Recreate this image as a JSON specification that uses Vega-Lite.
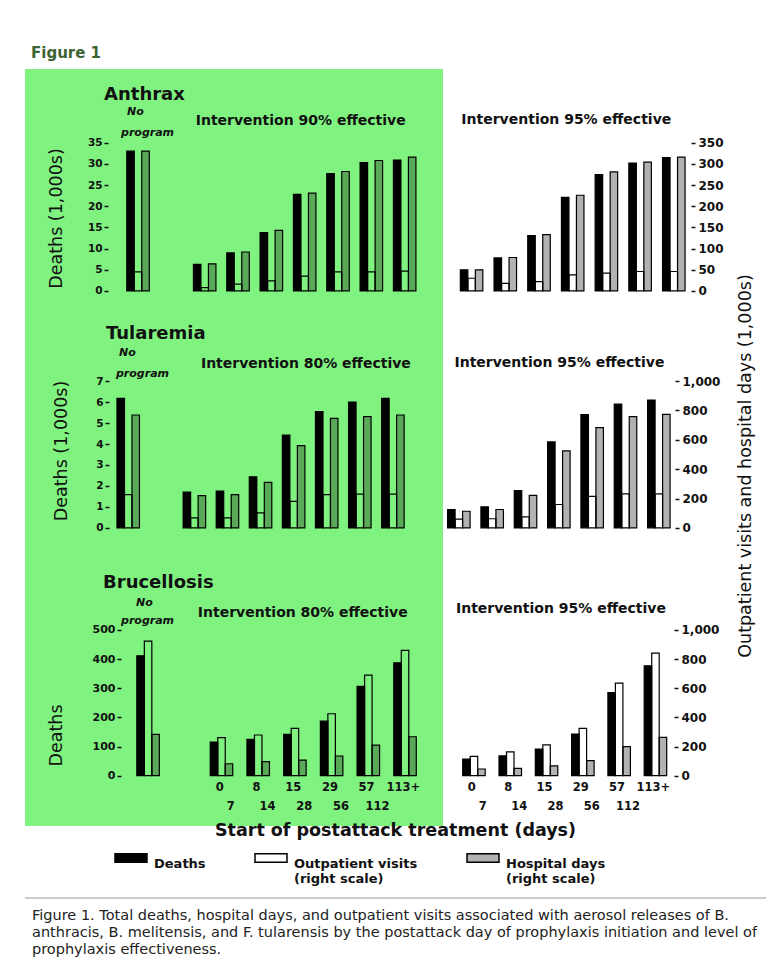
{
  "$schema": "https://vega.github.io/schema/vega-lite/v6.json",
  "background": "white",
  "padding": {"left": 24, "top": 46, "right": 0, "bottom": 0},
  "title": {"text": ["Figure 1. Total deaths, hospital days, and outpatient visits associated with aerosol releases of B.", "anthracis, B. melitensis, and F. tularensis by the postattack day of prophylaxis initiation and level of", "prophylaxis effectiveness."], "orient": "bottom", "anchor": "start", "offset": 10, "dx": 8, "fontSize": 14.5, "fontWeight": "normal", "font": "DejaVu Sans", "color": "#222", "lineHeight": 17},
  "datasets": {
    "anthrax": [
      {"program": "No program", "day": "NP", "deaths": 33.0, "outpatient": 45, "hospital": 330},
      {"program": "Intervention 90% effective", "day": "0", "deaths": 6.3, "outpatient": 8, "hospital": 64},
      {"program": "Intervention 90% effective", "day": "1", "deaths": 9.0, "outpatient": 16, "hospital": 92},
      {"program": "Intervention 90% effective", "day": "2", "deaths": 13.8, "outpatient": 24, "hospital": 143},
      {"program": "Intervention 90% effective", "day": "3", "deaths": 22.8, "outpatient": 35, "hospital": 231},
      {"program": "Intervention 90% effective", "day": "4", "deaths": 27.7, "outpatient": 45, "hospital": 282},
      {"program": "Intervention 90% effective", "day": "5", "deaths": 30.3, "outpatient": 45, "hospital": 308},
      {"program": "Intervention 90% effective", "day": "6", "deaths": 30.9, "outpatient": 47, "hospital": 316},
      {"program": "Intervention 95% effective", "day": "0", "deaths": 5.0, "outpatient": 30, "hospital": 50},
      {"program": "Intervention 95% effective", "day": "1", "deaths": 7.8, "outpatient": 18, "hospital": 79},
      {"program": "Intervention 95% effective", "day": "2", "deaths": 13.1, "outpatient": 22, "hospital": 133},
      {"program": "Intervention 95% effective", "day": "3", "deaths": 22.1, "outpatient": 38, "hospital": 226},
      {"program": "Intervention 95% effective", "day": "4", "deaths": 27.5, "outpatient": 42, "hospital": 281},
      {"program": "Intervention 95% effective", "day": "5", "deaths": 30.2, "outpatient": 46, "hospital": 304},
      {"program": "Intervention 95% effective", "day": "6", "deaths": 31.5, "outpatient": 46, "hospital": 316}
    ],
    "tularemia": [
      {"program": "No program", "day": "NP", "deaths": 6.18, "outpatient": 227, "hospital": 769},
      {"program": "Intervention 80% effective", "day": "0", "deaths": 1.70, "outpatient": 68, "hospital": 220},
      {"program": "Intervention 80% effective", "day": "1", "deaths": 1.75, "outpatient": 68, "hospital": 227},
      {"program": "Intervention 80% effective", "day": "2", "deaths": 2.43, "outpatient": 102, "hospital": 310},
      {"program": "Intervention 80% effective", "day": "3", "deaths": 4.42, "outpatient": 181, "hospital": 561},
      {"program": "Intervention 80% effective", "day": "4", "deaths": 5.54, "outpatient": 227, "hospital": 746},
      {"program": "Intervention 80% effective", "day": "5", "deaths": 6.00, "outpatient": 230, "hospital": 758},
      {"program": "Intervention 80% effective", "day": "6", "deaths": 6.18, "outpatient": 230, "hospital": 769},
      {"program": "Intervention 95% effective", "day": "0", "deaths": 0.87, "outpatient": 60, "hospital": 113},
      {"program": "Intervention 95% effective", "day": "1", "deaths": 1.0, "outpatient": 62, "hospital": 125},
      {"program": "Intervention 95% effective", "day": "2", "deaths": 1.78, "outpatient": 75, "hospital": 222},
      {"program": "Intervention 95% effective", "day": "3", "deaths": 4.1, "outpatient": 159, "hospital": 525},
      {"program": "Intervention 95% effective", "day": "4", "deaths": 5.4, "outpatient": 215, "hospital": 683},
      {"program": "Intervention 95% effective", "day": "5", "deaths": 5.9, "outpatient": 231, "hospital": 758},
      {"program": "Intervention 95% effective", "day": "6", "deaths": 6.1, "outpatient": 231, "hospital": 774}
    ],
    "brucellosis": [
      {"program": "No program", "day": "NP", "deaths": 411, "outpatient": 923, "hospital": 283},
      {"program": "Intervention 80% effective", "day": "0-7", "deaths": 115, "outpatient": 261, "hospital": 82},
      {"program": "Intervention 80% effective", "day": "8-14", "deaths": 125, "outpatient": 279, "hospital": 96},
      {"program": "Intervention 80% effective", "day": "15-28", "deaths": 142, "outpatient": 325, "hospital": 107},
      {"program": "Intervention 80% effective", "day": "29-56", "deaths": 187, "outpatient": 425, "hospital": 135},
      {"program": "Intervention 80% effective", "day": "57-112", "deaths": 306, "outpatient": 690, "hospital": 210},
      {"program": "Intervention 80% effective", "day": "113+", "deaths": 387, "outpatient": 859, "hospital": 267},
      {"program": "Intervention 95% effective", "day": "0-7", "deaths": 57, "outpatient": 132, "hospital": 46},
      {"program": "Intervention 95% effective", "day": "8-14", "deaths": 68, "outpatient": 164, "hospital": 50},
      {"program": "Intervention 95% effective", "day": "15-28", "deaths": 91, "outpatient": 212, "hospital": 68},
      {"program": "Intervention 95% effective", "day": "29-56", "deaths": 143, "outpatient": 324, "hospital": 103},
      {"program": "Intervention 95% effective", "day": "57-112", "deaths": 285, "outpatient": 635, "hospital": 199},
      {"program": "Intervention 95% effective", "day": "113+", "deaths": 377, "outpatient": 840, "hospital": 263}
    ]
  },
  "spacing": -5,
  "vconcat": [
    {
      "title": {"text": "Figure 1", "anchor": "start", "orient": "top", "offset": 8, "dx": 6, "fontSize": 15, "font": "DejaVu Sans", "fontWeight": "bold", "color": "#3c6432"},
      "spacing": 0,
      "hconcat": [
        {
          "spacing": 0,
          "vconcat": [
            {
              "width": 418, "height": 244,
              "view": {"fill": "#80f280", "stroke": null},
              "resolve": {"scale": {"y": "independent"}},
              "layer": [
                {
                  "data": {"name": "anthrax"},
                  "transform": [{"filter": {"field": "program", "oneOf": ["No program", "Intervention 90% effective"]}}, {"fold": ["outpatient", "hospital"], "as": ["measure", "value"]}],
                  "mark": {"type": "bar", "stroke": "#000", "strokeWidth": 1.2},
                  "encoding": {
                    "x": {"field": "day", "type": "nominal", "scale": {"domain": ["p1", "p2", "p3", "NP", "gap", "0", "1", "2", "3", "4", "5", "6"], "paddingInner": 0.325, "paddingOuter": 0.433, "align": 0.062}, "axis": {"values": ["0", "1", "2", "3", "4", "5", "6"], "orient": "bottom", "offset": -22, "tickSize": 0, "labelPadding": 5, "labelAngle": 0, "labelFontSize": 11.5, "title": null}},
                    "xOffset": {"field": "measure", "type": "nominal", "scale": {"domain": ["deaths", "outpatient", "hospital"], "paddingInner": 0, "paddingOuter": 0}},
                    "y": {"field": "value", "type": "quantitative", "scale": {"domain": [-52, 524], "nice": false}, "axis": null},
                    "y2": {"datum": 0},
                    "fill": {"field": "measure", "type": "nominal", "scale": {"domain": ["deaths", "outpatient", "hospital"], "range": ["#000000", "transparent", "rgba(0,0,0,0.3)"]},
                      "legend": {"title": null, "orient": "none", "legendX": 89, "legendY": 772, "direction": "horizontal", "columns": 3, "columnPadding": 46, "symbolType": "M-1,-0.27H1V0.27H-1Z", "symbolSize": 1024, "symbolStrokeColor": "#000", "symbolStrokeWidth": 1.5, "symbolOpacity": 1, "labelFont": "DejaVu Sans", "labelFontSize": 13, "labelFontWeight": "bold", "labelColor": "#111", "labelOffset": 6, "labelLimit": 400, "labelBaseline": "top", "labelLineHeight": 15, "labelExpr": "datum.label == 'deaths' ? ['Deaths', ' '] : datum.label == 'outpatient' ? ['Outpatient visits', '(right scale)'] : ['Hospital days', '(right scale)']"}}
                  }
                },
                {
                  "data": {"name": "anthrax"},
                  "transform": [{"filter": {"field": "program", "oneOf": ["No program", "Intervention 90% effective"]}}],
                  "mark": {"type": "bar", "stroke": "#000", "strokeWidth": 1.2},
                  "encoding": {
                    "x": {"field": "day", "type": "nominal", "scale": {"domain": ["p1", "p2", "p3", "NP", "gap", "0", "1", "2", "3", "4", "5", "6"], "paddingInner": 0.325, "paddingOuter": 0.433, "align": 0.062}, "axis": {"values": ["0", "1", "2", "3", "4", "5", "6"], "orient": "bottom", "offset": -22, "tickSize": 0, "labelPadding": 5, "labelAngle": 0, "labelFontSize": 11.5, "title": null}},
                    "xOffset": {"datum": "deaths", "type": "nominal", "scale": {"domain": ["deaths", "outpatient", "hospital"], "paddingInner": 0, "paddingOuter": 0}},
                    "y": {"field": "deaths", "type": "quantitative", "scale": {"domain": [-5.2, 52.4], "nice": false}, "axis": {"orient": "left", "offset": -83, "values": [0, 5, 10, 15, 20, 25, 30, 35], "tickSize": 4, "labelPadding": 2, "labelFontSize": 10.5, "title": "Deaths (1,000s)", "titleFontSize": 17.5, "titleX": -52, "titleY": 149, "titleAngle": 270, "titleBaseline": "middle", "titleAlign": "center"}},
                    "y2": {"datum": 0},
                    "fill": {"datum": "deaths", "type": "nominal", "scale": {"domain": ["deaths", "outpatient", "hospital"], "range": ["#000000", "transparent", "rgba(0,0,0,0.3)"]}}
                  }
                },
                {
                  "data": {"values": [{"label": "Anthrax"}]},
                  "mark": {"type": "text", "align": "left", "baseline": "middle", "dx": -34, "font": "DejaVu Sans", "fontSize": 18, "fontWeight": "bold", "color": "#111"},
                  "encoding": {"x": {"datum": "NP", "axis": null}, "y": {"datum": 46.3, "scale": {"domain": [-5.2, 52.4], "nice": false}, "axis": null}, "text": {"field": "label"}}
                },
                {
                  "data": {"values": [{"label": "No"}]},
                  "mark": {"type": "text", "align": "left", "baseline": "top", "dx": -11, "font": "DejaVu Sans", "fontSize": 11, "fontWeight": "bold", "fontStyle": "italic", "color": "#111"},
                  "encoding": {"x": {"datum": "NP", "axis": null}, "y": {"datum": 43.7, "scale": {"domain": [-5.2, 52.4], "nice": false}, "axis": null}, "text": {"field": "label"}}
                },
                {
                  "data": {"values": [{"label": "program"}]},
                  "mark": {"type": "text", "align": "left", "baseline": "top", "dx": -17, "font": "DejaVu Sans", "fontSize": 11, "fontWeight": "bold", "fontStyle": "italic", "color": "#111"},
                  "encoding": {"x": {"datum": "NP", "axis": null}, "y": {"datum": 38.7, "scale": {"domain": [-5.2, 52.4], "nice": false}, "axis": null}, "text": {"field": "label"}}
                },
                {
                  "data": {"values": [{"label": "Intervention 90% effective"}]},
                  "mark": {"type": "text", "align": "center", "baseline": "middle", "dx": -4, "font": "DejaVu Sans", "fontSize": 14, "fontWeight": "bold", "color": "#111"},
                  "encoding": {"x": {"datum": "3", "axis": null}, "y": {"datum": 40.1, "scale": {"domain": [-5.2, 52.4], "nice": false}, "axis": null}, "text": {"field": "label"}}
                }
              ]
            },
            {
              "width": 418, "height": 240,
              "view": {"fill": "#80f280", "stroke": null},
              "resolve": {"scale": {"y": "independent"}},
              "layer": [
                {
                  "data": {"name": "tularemia"},
                  "transform": [{"filter": {"field": "program", "oneOf": ["No program", "Intervention 80% effective"]}}, {"fold": ["outpatient", "hospital"], "as": ["measure", "value"]}],
                  "mark": {"type": "bar", "stroke": "#000", "strokeWidth": 1.2},
                  "encoding": {
                    "x": {"field": "day", "type": "nominal", "scale": {"domain": ["p1", "p2", "NP", "gap", "0", "1", "2", "3", "4", "5", "6"], "paddingInner": 0.365, "paddingOuter": 1, "align": 0.39}, "axis": {"values": ["0", "1", "2", "3", "4", "5", "6"], "orient": "bottom", "offset": -25.3, "tickOpacity": 0, "labelPadding": 4, "labelAngle": 0, "labelFontSize": 11.5, "title": null}},
                    "xOffset": {"field": "measure", "type": "nominal", "scale": {"domain": ["deaths", "outpatient", "hospital"], "paddingInner": 0, "paddingOuter": 0}},
                    "y": {"field": "value", "type": "quantitative", "scale": {"domain": [-171.4, 1464.3], "nice": false}, "axis": null},
                    "y2": {"datum": 0},
                    "fill": {"field": "measure", "type": "nominal", "scale": {"domain": ["deaths", "outpatient", "hospital"], "range": ["#000000", "transparent", "rgba(0,0,0,0.3)"]}}
                  }
                },
                {
                  "data": {"name": "tularemia"},
                  "transform": [{"filter": {"field": "program", "oneOf": ["No program", "Intervention 80% effective"]}}],
                  "mark": {"type": "bar", "stroke": "#000", "strokeWidth": 1.2},
                  "encoding": {
                    "x": {"field": "day", "type": "nominal", "scale": {"domain": ["p1", "p2", "NP", "gap", "0", "1", "2", "3", "4", "5", "6"], "paddingInner": 0.365, "paddingOuter": 1, "align": 0.39}, "axis": {"values": ["0", "1", "2", "3", "4", "5", "6"], "orient": "bottom", "offset": -25.3, "tickOpacity": 0, "labelPadding": 4, "labelAngle": 0, "labelFontSize": 11.5, "title": null}},
                    "xOffset": {"datum": "deaths", "type": "nominal", "scale": {"domain": ["deaths", "outpatient", "hospital"], "paddingInner": 0, "paddingOuter": 0}},
                    "y": {"field": "deaths", "type": "quantitative", "scale": {"domain": [-1.2, 10.25], "nice": false}, "axis": {"orient": "left", "offset": -84, "values": [0, 1, 2, 3, 4, 5, 6, 7], "tickSize": 4, "labelPadding": 2, "labelFontSize": 10.5, "title": "Deaths (1,000s)", "titleFontSize": 17.5, "titleX": -48, "titleY": 137.5, "titleAngle": 270, "titleBaseline": "middle", "titleAlign": "center"}},
                    "y2": {"datum": 0},
                    "fill": {"datum": "deaths", "type": "nominal", "scale": {"domain": ["deaths", "outpatient", "hospital"], "range": ["#000000", "transparent", "rgba(0,0,0,0.3)"]}}
                  }
                },
                {
                  "data": {"values": [{"label": "Tularemia"}]},
                  "mark": {"type": "text", "align": "left", "baseline": "middle", "dx": -21.5, "font": "DejaVu Sans", "fontSize": 18, "fontWeight": "bold", "color": "#111"},
                  "encoding": {"x": {"datum": "NP", "axis": null}, "y": {"datum": 9.24, "scale": {"domain": [-1.2, 10.25], "nice": false}, "axis": null}, "text": {"field": "label"}}
                },
                {
                  "data": {"values": [{"label": "No"}]},
                  "mark": {"type": "text", "align": "left", "baseline": "top", "dx": -8.5, "font": "DejaVu Sans", "fontSize": 11, "fontWeight": "bold", "fontStyle": "italic", "color": "#111"},
                  "encoding": {"x": {"datum": "NP", "axis": null}, "y": {"datum": 8.62, "scale": {"domain": [-1.2, 10.25], "nice": false}, "axis": null}, "text": {"field": "label"}}
                },
                {
                  "data": {"values": [{"label": "program"}]},
                  "mark": {"type": "text", "align": "left", "baseline": "top", "dx": -11.5, "font": "DejaVu Sans", "fontSize": 11, "fontWeight": "bold", "fontStyle": "italic", "color": "#111"},
                  "encoding": {"x": {"datum": "NP", "axis": null}, "y": {"datum": 7.62, "scale": {"domain": [-1.2, 10.25], "nice": false}, "axis": null}, "text": {"field": "label"}}
                },
                {
                  "data": {"values": [{"label": "Intervention 80% effective"}]},
                  "mark": {"type": "text", "align": "center", "baseline": "middle", "dx": 13, "font": "DejaVu Sans", "fontSize": 14, "fontWeight": "bold", "color": "#111"},
                  "encoding": {"x": {"datum": "3", "axis": null}, "y": {"datum": 7.81, "scale": {"domain": [-1.2, 10.25], "nice": false}, "axis": null}, "text": {"field": "label"}}
                }
              ]
            },
            {
              "width": 418, "height": 273,
              "view": {"fill": "#80f280", "stroke": null},
              "resolve": {"scale": {"y": "independent"}, "axis": {"x": "independent"}},
              "layer": [
                {
                  "data": {"name": "brucellosis"},
                  "transform": [{"filter": {"field": "program", "oneOf": ["No program", "Intervention 80% effective"]}}, {"fold": ["outpatient", "hospital"], "as": ["measure", "value"]}],
                  "mark": {"type": "bar", "stroke": "#000", "strokeWidth": 1.2},
                  "encoding": {
                    "x": {"field": "day", "type": "nominal", "scale": {"domain": ["p1", "p2", "p3", "NP", "gap", "0-7", "8-14", "15-28", "29-56", "57-112", "113+"], "paddingInner": 0.373, "paddingOuter": 0.38, "align": 0.061}, "axis": {"values": ["0-7", "8-14", "15-28", "29-56", "57-112", "113+"], "orient": "bottom", "offset": -50.3, "tickOpacity": 0, "labelPadding": 1, "labelOffset": -2, "labelAngle": 0, "labelFontSize": 11.5, "title": null, "labelExpr": "indexof(datum.value, '-') > 0 ? split(datum.value, '-')[0] : datum.value"}},
                    "xOffset": {"field": "measure", "type": "nominal", "scale": {"domain": ["deaths", "outpatient", "hospital"], "paddingInner": 0, "paddingOuter": 0}},
                    "y": {"field": "value", "type": "quantitative", "scale": {"domain": [-344.8, 1527], "nice": false}, "axis": null},
                    "y2": {"datum": 0},
                    "fill": {"field": "measure", "type": "nominal", "scale": {"domain": ["deaths", "outpatient", "hospital"], "range": ["#000000", "transparent", "rgba(0,0,0,0.3)"]}}
                  }
                },
                {
                  "data": {"name": "brucellosis"},
                  "transform": [{"filter": {"field": "program", "oneOf": ["No program", "Intervention 80% effective"]}}],
                  "mark": {"type": "bar", "stroke": "#000", "strokeWidth": 1.2},
                  "encoding": {
                    "x": {"field": "day", "type": "nominal", "scale": {"domain": ["p1", "p2", "p3", "NP", "gap", "0-7", "8-14", "15-28", "29-56", "57-112", "113+"], "paddingInner": 0.373, "paddingOuter": 0.38, "align": 0.061}, "axis": {"values": ["0-7", "8-14", "15-28", "29-56", "57-112", "113+"], "orient": "bottom", "offset": -50.3, "tickOpacity": 0, "labelPadding": 20, "labelOffset": 9, "labelAngle": 0, "labelFontSize": 11.5, "title": null, "labelExpr": "indexof(datum.value, '-') > 0 ? split(datum.value, '-')[1] : ''"}},
                    "xOffset": {"datum": "deaths", "type": "nominal", "scale": {"domain": ["deaths", "outpatient", "hospital"], "paddingInner": 0, "paddingOuter": 0}},
                    "y": {"field": "deaths", "type": "quantitative", "scale": {"domain": [-172.4, 763.5], "nice": false}, "axis": {"orient": "left", "offset": -96, "values": [0, 100, 200, 300, 400, 500], "tickSize": 4, "labelPadding": 2, "labelFontSize": 11, "title": "Deaths", "titleFontSize": 17.5, "titleX": -65, "titleY": 182, "titleAngle": 270, "titleBaseline": "middle", "titleAlign": "center"}},
                    "y2": {"datum": 0},
                    "fill": {"datum": "deaths", "type": "nominal", "scale": {"domain": ["deaths", "outpatient", "hospital"], "range": ["#000000", "transparent", "rgba(0,0,0,0.3)"]}}
                  }
                },
                {
                  "data": {"values": [{"label": "Brucellosis"}]},
                  "mark": {"type": "text", "align": "left", "baseline": "middle", "dx": -45.3, "font": "DejaVu Sans", "fontSize": 18, "fontWeight": "bold", "color": "#111"},
                  "encoding": {"x": {"datum": "NP", "axis": null}, "y": {"datum": 662.3, "scale": {"domain": [-172.4, 763.5], "nice": false}, "axis": null}, "text": {"field": "label"}}
                },
                {
                  "data": {"values": [{"label": "No"}]},
                  "mark": {"type": "text", "align": "left", "baseline": "top", "dx": -12.3, "font": "DejaVu Sans", "fontSize": 11, "fontWeight": "bold", "fontStyle": "italic", "color": "#111"},
                  "encoding": {"x": {"datum": "NP", "axis": null}, "y": {"datum": 612.7, "scale": {"domain": [-172.4, 763.5], "nice": false}, "axis": null}, "text": {"field": "label"}}
                },
                {
                  "data": {"values": [{"label": "program"}]},
                  "mark": {"type": "text", "align": "left", "baseline": "top", "dx": -27.3, "font": "DejaVu Sans", "fontSize": 11, "fontWeight": "bold", "fontStyle": "italic", "color": "#111"},
                  "encoding": {"x": {"datum": "NP", "axis": null}, "y": {"datum": 550.9, "scale": {"domain": [-172.4, 763.5], "nice": false}, "axis": null}, "text": {"field": "label"}}
                },
                {
                  "data": {"values": [{"label": "Intervention 80% effective"}]},
                  "mark": {"type": "text", "align": "center", "baseline": "middle", "dx": 7.6, "font": "DejaVu Sans", "fontSize": 14, "fontWeight": "bold", "color": "#111"},
                  "encoding": {"x": {"datum": "15-28", "axis": null}, "y": {"datum": 559.5, "scale": {"domain": [-172.4, 763.5], "nice": false}, "axis": null}, "text": {"field": "label"}}
                }
              ]
            }
          ]
        },
        {
          "spacing": 0,
          "title": {"text": "Outpatient visits and hospital days (1,000s)", "orient": "right", "anchor": "middle", "angle": 270, "baseline": "middle", "offset": 5, "dx": -18.5, "fontSize": 17.5, "fontWeight": "normal", "font": "DejaVu Sans", "color": "#111"},
          "vconcat": [
            {
              "width": 248, "height": 244,
              "resolve": {"scale": {"y": "independent"}},
              "layer": [
                {
                  "data": {"name": "anthrax"},
                  "transform": [{"filter": {"field": "program", "equal": "Intervention 95% effective"}}, {"fold": ["outpatient", "hospital"], "as": ["measure", "value"]}],
                  "mark": {"type": "bar", "stroke": "#000", "strokeWidth": 1.2},
                  "encoding": {
                    "x": {"field": "day", "type": "nominal", "scale": {"domain": ["0", "1", "2", "3", "4", "5", "6"], "paddingInner": 0.356, "paddingOuter": 0.3575, "align": 0.72}, "axis": {"orient": "bottom", "offset": -22, "tickSize": 0, "labelPadding": 5, "labelAngle": 0, "labelFontSize": 11.5, "title": null}},
                    "xOffset": {"field": "measure", "type": "nominal", "scale": {"domain": ["deaths", "outpatient", "hospital"], "paddingInner": 0, "paddingOuter": 0}},
                    "y": {"field": "value", "type": "quantitative", "scale": {"domain": [-52, 524], "nice": false}, "axis": {"orient": "right", "values": [0, 50, 100, 150, 200, 250, 300, 350], "tickSize": 4, "labelPadding": 3, "labelFontSize": 12, "title": null}},
                    "y2": {"datum": 0},
                    "fill": {"field": "measure", "type": "nominal", "scale": {"domain": ["deaths", "outpatient", "hospital"], "range": ["#000000", "transparent", "rgba(0,0,0,0.3)"]}}
                  }
                },
                {
                  "data": {"name": "anthrax"},
                  "transform": [{"filter": {"field": "program", "equal": "Intervention 95% effective"}}],
                  "mark": {"type": "bar", "stroke": "#000", "strokeWidth": 1.2},
                  "encoding": {
                    "x": {"field": "day", "type": "nominal", "scale": {"domain": ["0", "1", "2", "3", "4", "5", "6"], "paddingInner": 0.356, "paddingOuter": 0.3575, "align": 0.72}, "axis": {"orient": "bottom", "offset": -22, "tickSize": 0, "labelPadding": 5, "labelAngle": 0, "labelFontSize": 11.5, "title": null}},
                    "xOffset": {"datum": "deaths", "type": "nominal", "scale": {"domain": ["deaths", "outpatient", "hospital"], "paddingInner": 0, "paddingOuter": 0}},
                    "y": {"field": "deaths", "type": "quantitative", "scale": {"domain": [-5.2, 52.4], "nice": false}, "axis": null},
                    "y2": {"datum": 0},
                    "fill": {"datum": "deaths", "type": "nominal", "scale": {"domain": ["deaths", "outpatient", "hospital"], "range": ["#000000", "transparent", "rgba(0,0,0,0.3)"]}}
                  }
                },
                {
                  "data": {"values": [{"label": "Intervention 95% effective"}]},
                  "mark": {"type": "text", "align": "center", "baseline": "middle", "dx": -6, "font": "DejaVu Sans", "fontSize": 14, "fontWeight": "bold", "color": "#111"},
                  "encoding": {"x": {"datum": "3", "axis": null}, "y": {"datum": 40.4, "scale": {"domain": [-5.2, 52.4], "nice": false}, "axis": null}, "text": {"field": "label"}}
                }
              ]
            },
            {
              "width": 232, "height": 240,
              "resolve": {"scale": {"y": "independent"}},
              "layer": [
                {
                  "data": {"name": "tularemia"},
                  "transform": [{"filter": {"field": "program", "equal": "Intervention 95% effective"}}, {"fold": ["outpatient", "hospital"], "as": ["measure", "value"]}],
                  "mark": {"type": "bar", "stroke": "#000", "strokeWidth": 1.2},
                  "encoding": {
                    "x": {"field": "day", "type": "nominal", "scale": {"domain": ["0", "1", "2", "3", "4", "5", "6"], "paddingInner": 0.38, "paddingOuter": 0.17, "align": 0.405}, "axis": {"orient": "bottom", "offset": -25.3, "tickOpacity": 0, "labelPadding": 4, "labelAngle": 0, "labelFontSize": 11.5, "title": null}},
                    "xOffset": {"field": "measure", "type": "nominal", "scale": {"domain": ["deaths", "outpatient", "hospital"], "paddingInner": 0, "paddingOuter": 0}},
                    "y": {"field": "value", "type": "quantitative", "scale": {"domain": [-171.4, 1464.3], "nice": false}, "axis": {"orient": "right", "values": [0, 200, 400, 600, 800, 1000], "format": ",.0f", "tickSize": 4, "labelPadding": 3, "labelFontSize": 12, "title": null}},
                    "y2": {"datum": 0},
                    "fill": {"field": "measure", "type": "nominal", "scale": {"domain": ["deaths", "outpatient", "hospital"], "range": ["#000000", "transparent", "rgba(0,0,0,0.3)"]}}
                  }
                },
                {
                  "data": {"name": "tularemia"},
                  "transform": [{"filter": {"field": "program", "equal": "Intervention 95% effective"}}],
                  "mark": {"type": "bar", "stroke": "#000", "strokeWidth": 1.2},
                  "encoding": {
                    "x": {"field": "day", "type": "nominal", "scale": {"domain": ["0", "1", "2", "3", "4", "5", "6"], "paddingInner": 0.38, "paddingOuter": 0.17, "align": 0.405}, "axis": {"orient": "bottom", "offset": -25.3, "tickOpacity": 0, "labelPadding": 4, "labelAngle": 0, "labelFontSize": 11.5, "title": null}},
                    "xOffset": {"datum": "deaths", "type": "nominal", "scale": {"domain": ["deaths", "outpatient", "hospital"], "paddingInner": 0, "paddingOuter": 0}},
                    "y": {"field": "deaths", "type": "quantitative", "scale": {"domain": [-1.2, 10.25], "nice": false}, "axis": null},
                    "y2": {"datum": 0},
                    "fill": {"datum": "deaths", "type": "nominal", "scale": {"domain": ["deaths", "outpatient", "hospital"], "range": ["#000000", "transparent", "rgba(0,0,0,0.3)"]}}
                  }
                },
                {
                  "data": {"values": [{"label": "Intervention 95% effective"}]},
                  "mark": {"type": "text", "align": "center", "baseline": "middle", "dx": 1.5, "font": "DejaVu Sans", "fontSize": 14, "fontWeight": "bold", "color": "#111"},
                  "encoding": {"x": {"datum": "3", "axis": null}, "y": {"datum": 7.86, "scale": {"domain": [-1.2, 10.25], "nice": false}, "axis": null}, "text": {"field": "label"}}
                }
              ]
            },
            {
              "width": 231, "height": 273,
              "resolve": {"scale": {"y": "independent"}, "axis": {"x": "independent"}},
              "layer": [
                {
                  "data": {"name": "brucellosis"},
                  "transform": [{"filter": {"field": "program", "equal": "Intervention 95% effective"}}, {"fold": ["outpatient", "hospital"], "as": ["measure", "value"]}],
                  "mark": {"type": "bar", "stroke": "#000", "strokeWidth": 1.2},
                  "encoding": {
                    "x": {"field": "day", "type": "nominal", "scale": {"domain": ["0-7", "8-14", "15-28", "29-56", "57-112", "113+"], "paddingInner": 0.386, "paddingOuter": 0.375, "align": 0.724}, "axis": {"orient": "bottom", "offset": -50.3, "tickOpacity": 0, "labelPadding": 1, "labelOffset": -2, "labelAngle": 0, "labelFontSize": 11.5, "title": null, "labelExpr": "indexof(datum.value, '-') > 0 ? split(datum.value, '-')[0] : datum.value"}},
                    "xOffset": {"field": "measure", "type": "nominal", "scale": {"domain": ["deaths", "outpatient", "hospital"], "paddingInner": 0, "paddingOuter": 0}},
                    "y": {"field": "value", "type": "quantitative", "scale": {"domain": [-344.8, 1527], "nice": false}, "axis": {"orient": "right", "values": [0, 200, 400, 600, 800, 1000], "format": ",.0f", "tickSize": 4, "labelPadding": 3, "labelFontSize": 12, "title": null}},
                    "y2": {"datum": 0},
                    "fill": {"field": "measure", "type": "nominal", "scale": {"domain": ["deaths", "outpatient", "hospital"], "range": ["#000000", "transparent", "rgba(0,0,0,0.3)"]}}
                  }
                },
                {
                  "data": {"name": "brucellosis"},
                  "transform": [{"filter": {"field": "program", "equal": "Intervention 95% effective"}}],
                  "mark": {"type": "bar", "stroke": "#000", "strokeWidth": 1.2},
                  "encoding": {
                    "x": {"field": "day", "type": "nominal", "scale": {"domain": ["0-7", "8-14", "15-28", "29-56", "57-112", "113+"], "paddingInner": 0.386, "paddingOuter": 0.375, "align": 0.724}, "axis": {"orient": "bottom", "offset": -50.3, "tickOpacity": 0, "labelPadding": 20, "labelOffset": 9, "labelAngle": 0, "labelFontSize": 11.5, "title": null, "labelExpr": "indexof(datum.value, '-') > 0 ? split(datum.value, '-')[1] : ''"}},
                    "xOffset": {"datum": "deaths", "type": "nominal", "scale": {"domain": ["deaths", "outpatient", "hospital"], "paddingInner": 0, "paddingOuter": 0}},
                    "y": {"field": "deaths", "type": "quantitative", "scale": {"domain": [-172.4, 763.5], "nice": false}, "axis": null},
                    "y2": {"datum": 0},
                    "fill": {"datum": "deaths", "type": "nominal", "scale": {"domain": ["deaths", "outpatient", "hospital"], "range": ["#000000", "transparent", "rgba(0,0,0,0.3)"]}}
                  }
                },
                {
                  "data": {"values": [{"label": "Intervention 95% effective"}]},
                  "mark": {"type": "text", "align": "center", "baseline": "middle", "dx": 14.5, "font": "DejaVu Sans", "fontSize": 14, "fontWeight": "bold", "color": "#111"},
                  "encoding": {"x": {"datum": "15-28", "axis": null}, "y": {"datum": 573.2, "scale": {"domain": [-172.4, 763.5], "nice": false}, "axis": null}, "text": {"field": "label"}}
                }
              ]
            }
          ]
        }
      ]
    },
    {
      "width": 741, "height": 57,
      "title": {"text": "Start of postattack treatment (days)", "orient": "top", "anchor": "middle", "offset": 2, "fontSize": 17.5, "fontWeight": "bold", "font": "DejaVu Sans", "color": "#111"},
      "data": {"values": [{}]},
      "mark": {"type": "rule", "color": "#cccccc", "strokeWidth": 2},
      "encoding": {"y": {"value": "height"}}
    }
  ],
  "config": {
    "view": {"stroke": null},
    "font": "DejaVu Sans",
    "axis": {"grid": false, "domain": false, "labelFont": "DejaVu Sans", "labelFontWeight": "bold", "labelColor": "#111", "tickColor": "#111", "tickWidth": 1.5, "titleFont": "DejaVu Sans", "titleFontWeight": "normal", "titleColor": "#111", "labelOverlap": false, "labelFlush": false},
    "title": {"font": "DejaVu Sans"}
  }
}
